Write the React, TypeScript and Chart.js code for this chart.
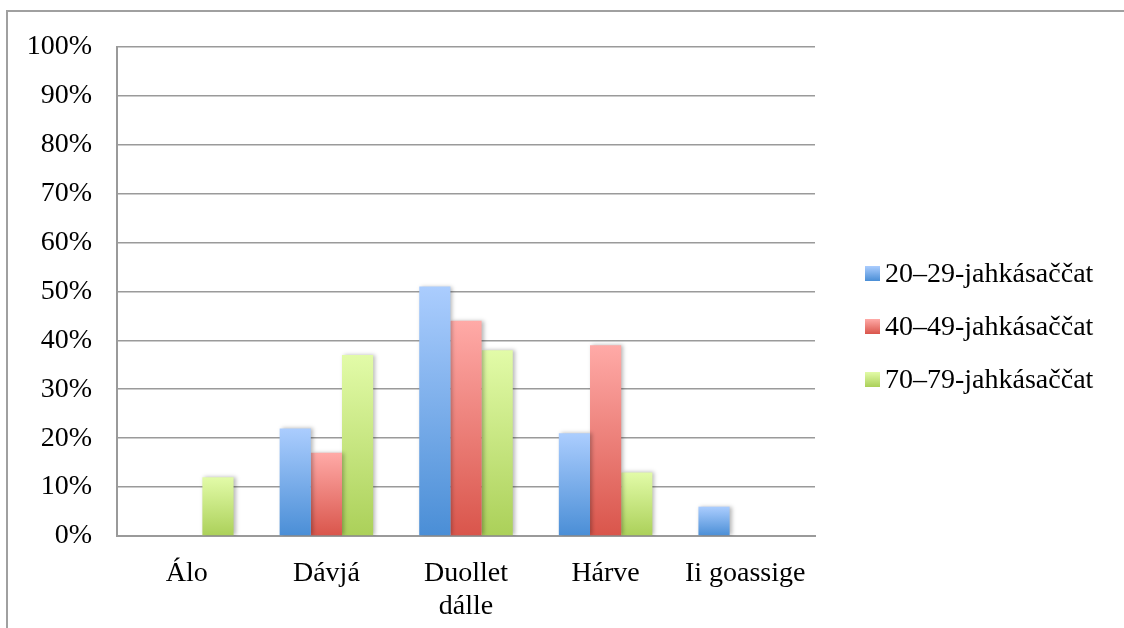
import React, { useEffect, useRef } from "react";
import { Chart, registerables } from "chart.js";

Chart.register(...registerables);

const categories: (string | string[])[] = ["Álo", "Dávjá", ["Duollet", "dálle"], "Hárve", "Ii goassige"];
const seriesNames = ["20–29-jahkásaččat", "40–49-jahkásaččat", "70–79-jahkásaččat"];
const values20 = [0, 22, 51, 21, 6];
const values40 = [0, 17, 44, 39, 0];
const values70 = [12, 37, 38, 13, 0];
const yTicks = [0, 10, 20, 30, 40, 50, 60, 70, 80, 90, 100];

const palette = [
  { top: "#abcdfe", bottom: "#4a8ed6" },
  { top: "#ffaaa7", bottom: "#d9554b" },
  { top: "#e2fba8", bottom: "#abd059" },
];

const FONT = "'Liberation Serif', 'Times New Roman', serif";

function gradientFor(idx: number) {
  return (ctx: any) => {
    const c = palette[idx];
    const chart = ctx.chart;
    const { chartArea, scales } = chart;
    if (!chartArea || ctx.type !== "data" || !scales.y) return c.bottom;
    const v = typeof ctx.raw === "number" ? ctx.raw : 0;
    const yTop = scales.y.getPixelForValue(v);
    const yBot = scales.y.getPixelForValue(0);
    if (yBot - yTop < 1) return c.bottom;
    const g = chart.ctx.createLinearGradient(0, yTop, 0, yBot);
    g.addColorStop(0, c.top);
    g.addColorStop(1, c.bottom);
    return g;
  };
}

const shadowPlugin = {
  id: "barShadow",
  beforeDatasetsDraw(chart: any) {
    const ctx = chart.ctx;
    ctx.save();
    ctx.shadowColor = "rgba(0,0,0,0.28)";
    ctx.shadowBlur = 4;
    ctx.shadowOffsetX = 2;
    ctx.shadowOffsetY = 0;
  },
  afterDatasetsDraw(chart: any) {
    chart.ctx.restore();
  },
};

export default function App() {
  const canvasRef = useRef<HTMLCanvasElement | null>(null);

  useEffect(() => {
    if (!canvasRef.current) return;
    const data = [values20, values40, values70];
    const chart = new Chart(canvasRef.current, {
      type: "bar",
      data: {
        labels: categories,
        datasets: seriesNames.map((name, i) => ({
          label: name,
          data: data[i],
          backgroundColor: gradientFor(i),
          borderWidth: 0,
          categoryPercentage: 0.67,
          barPercentage: 1.0,
        })),
      },
      options: {
        animation: false,
        responsive: false,
        maintainAspectRatio: false,
        layout: { padding: { left: 0, top: 47, right: 309, bottom: 0 } },
        plugins: {
          legend: { display: false },
          tooltip: { enabled: false },
        },
        scales: {
          x: {
            grid: { display: false, drawTicks: false },
            border: { display: true, color: "#9a9a9a", width: 2 },
            ticks: {
              color: "#000",
              font: { family: FONT, size: 28, lineHeight: 1.15 },
              padding: 22,
              maxRotation: 0,
              autoSkip: false,
            },
            afterFit: (s: any) => {
              s.height = 92;
            },
          },
          y: {
            min: 0,
            max: 100,
            afterBuildTicks: (s: any) => {
              s.ticks = yTicks.map((v) => ({ value: v }));
            },
            grid: { color: "#9a9a9a", lineWidth: 1.6, drawTicks: false },
            border: { display: true, color: "#9a9a9a", width: 2 },
            ticks: {
              color: "#000",
              font: { family: FONT, size: 28 },
              padding: 25,
              callback: (v: any) => `${v}%`,
            },
            afterFit: (s: any) => {
              s.width = 117;
            },
          },
        },
      },
      plugins: [shadowPlugin],
    });
    return () => chart.destroy();
  }, []);

  return (
    <div style={{ position: "absolute", left: 0, top: 0, width: 1124, height: 628, background: "#fff", overflow: "hidden" }}>
      <div
        style={{
          position: "absolute",
          left: 6,
          top: 10,
          width: 1200,
          height: 700,
          borderLeft: "2px solid #a0a0a0",
          borderTop: "2px solid #a0a0a0",
        }}
      />
      <canvas ref={canvasRef} width={1124} height={628} style={{ position: "absolute", left: 0, top: 0 }} />
      {seriesNames.map((name, i) => (
        <div
          key={name}
          style={{
            position: "absolute",
            left: 865,
            top: 257 + i * 53,
            height: 32,
            display: "flex",
            alignItems: "center",
            fontFamily: FONT,
            fontSize: 28,
            color: "#000",
            whiteSpace: "nowrap",
          }}
        >
          <span
            style={{
              display: "inline-block",
              width: 15,
              height: 15,
              marginRight: 5,
              background: `linear-gradient(${palette[i].top}, ${palette[i].bottom})`,
            }}
          />
          <span>{name}</span>
        </div>
      ))}
    </div>
  );
}
